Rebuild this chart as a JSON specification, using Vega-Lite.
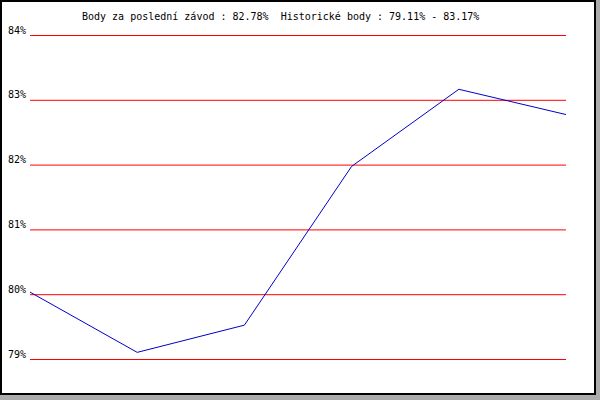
{
  "$schema": "https://vega.github.io/schema/vega-lite/v6.json",
  "width": 594,
  "height": 393,
  "autosize": {"type": "none"},
  "padding": {"left": 1, "top": 1, "right": 5, "bottom": 6},
  "background": "#ababab",
  "config": {"view": {"stroke": "#000000", "strokeWidth": 2, "fill": "#ffffff"}},
  "title": {
    "text": "Body za poslední závod : 82.78% \u00a0Historické body : 79.11% - 83.17%",
    "anchor": "start",
    "frame": "group",
    "dx": 81,
    "offset": -29,
    "baseline": "alphabetic",
    "font": "DejaVu Sans Mono",
    "fontSize": 10,
    "fontWeight": "normal",
    "color": "#000000"
  },
  "datasets": {
    "scores": [
      {"race": 1, "score": 80.04},
      {"race": 2, "score": 79.11},
      {"race": 3, "score": 79.53},
      {"race": 4, "score": 81.98},
      {"race": 5, "score": 83.17},
      {"race": 6, "score": 82.78}
    ],
    "grid": [
      {"v": 79, "label": "79%"},
      {"v": 80, "label": "80%"},
      {"v": 81, "label": "81%"},
      {"v": 82, "label": "82%"},
      {"v": 83, "label": "83%"},
      {"v": 84, "label": "84%"}
    ]
  },
  "layer": [
    {
      "data": {"name": "grid"},
      "mark": {"type": "rule", "color": "#ff0000", "strokeWidth": 1},
      "encoding": {
        "y": {"field": "v", "type": "quantitative", "scale": {"domain": [79, 84], "range": [358.5, 34.5], "nice": false, "zero": false}, "axis": null},
        "x": {"datum": 1, "type": "quantitative", "scale": {"domain": [1, 6], "range": [29, 565], "nice": false, "zero": false}, "axis": null},
        "x2": {"datum": 6}
      }
    },
    {
      "data": {"name": "grid"},
      "mark": {"type": "text", "align": "right", "baseline": "alphabetic", "dx": -4, "dy": -2, "font": "DejaVu Sans Mono", "fontSize": 10, "color": "#000000"},
      "encoding": {
        "y": {"field": "v", "type": "quantitative"},
        "x": {"datum": 1, "type": "quantitative"},
        "text": {"field": "label"}
      }
    },
    {
      "data": {"name": "scores"},
      "mark": {"type": "line", "color": "#0000cc", "strokeWidth": 1},
      "encoding": {
        "x": {"field": "race", "type": "quantitative"},
        "y": {"field": "score", "type": "quantitative"}
      }
    }
  ]
}
